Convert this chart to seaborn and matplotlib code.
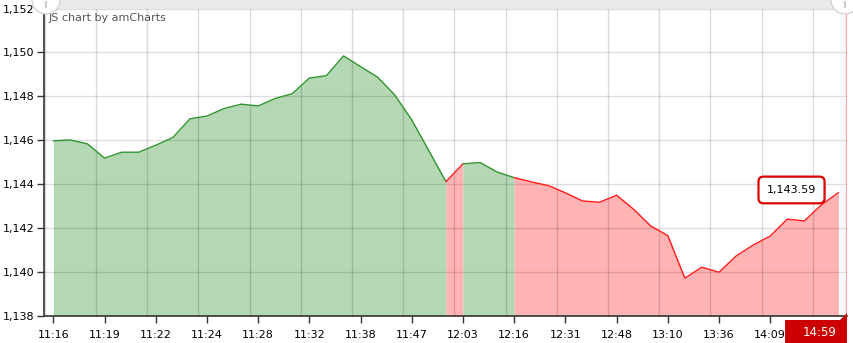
import matplotlib
matplotlib.use("Agg")
import matplotlib.pyplot as plt
import matplotlib.patches as mpatches
from matplotlib.ticker import FuncFormatter, FixedLocator
import numpy as np
import pandas as pd
import seaborn as sns

# ---- data ----
values = [1145.97, 1146.01, 1145.83, 1145.18, 1145.45, 1145.45, 1145.77, 1146.12,
          1146.97, 1147.10, 1147.44, 1147.64, 1147.56, 1147.90, 1148.12, 1148.83,
          1148.94, 1149.84, 1149.35, 1148.87, 1148.06, 1146.92, 1145.52, 1144.11,
          1144.92, 1144.98, 1144.55, 1144.29, 1144.10, 1143.93, 1143.60, 1143.23,
          1143.17, 1143.49, 1142.85, 1142.09, 1141.65, 1139.71, 1140.21, 1139.98,
          1140.72, 1141.22, 1141.63, 1142.40, 1142.32, 1143.05, 1143.61]
# colour of the segment that starts at each point ("g" up-colour, "r" down-colour)
seg_colors = (["g"] * 23 + ["r"] + ["g"] * 3 + ["r"] * 20)
tick_labels = ["11:16", "11:19", "11:22", "11:24", "11:28", "11:32", "11:38", "11:47",
               "12:03", "12:16", "12:31", "12:48", "13:10", "13:36", "14:09"]
cursor_label = "14:59"
last_value_label = "1,143.59"

GREEN_LINE = "#2f932f"
GREEN_FILL = "#b4d8b4"
RED_LINE = "#ff1a1a"
RED_FILL = "#ffb3b3"

sns.set_theme(style="white")
plt.rcParams['font.family'] = ['DejaVu Sans']

W, H = 854, 343
fig = plt.figure(figsize=(W / 100, H / 100), dpi=100)
ax = fig.add_axes([44.5 / W, (H - 315.7) / H, (847 - 44.5) / W, (315.7 - 8.5) / H])

n = len(values)
x = np.arange(n)
df = pd.DataFrame({"x": x, "value": values})

# split into runs of the same colour
runs = []
start = 0
for i in range(1, n - 1):
    if seg_colors[i] != seg_colors[start]:
        runs.append((start, i, seg_colors[start]))
        start = i
runs.append((start, n - 1, seg_colors[start]))

for s, e, c in runs:
    sub = df.iloc[s:e + 1]
    fill = GREEN_FILL if c == "g" else RED_FILL
    line = GREEN_LINE if c == "g" else RED_LINE
    ax.fill_between(sub["x"], sub["value"], 1138, color=fill, lw=0, zorder=1)
    sns.lineplot(data=sub, x="x", y="value", color=line, lw=1, ax=ax, zorder=3)

ax.set_xlim(-0.52, 46.5)
ax.set_ylim(1138, 1152)

# ticks
tick_pos = [3 * i for i in range(len(tick_labels))]
ax.set_xticks(tick_pos)
ax.set_xticklabels(tick_labels)
ax.xaxis.set_minor_locator(FixedLocator([2.5 + 3 * i for i in range(-1, 16)]))
ax.set_yticks(np.arange(1138, 1153, 2))
ax.yaxis.set_major_formatter(FuncFormatter(lambda v, p: f"{v:,.0f}"))
ax.set_xlabel("")
ax.set_ylabel("")

ax.tick_params(axis="both", which="major", labelsize=8, colors="#000000", length=5,
               width=1, direction="out", pad=3)
ax.tick_params(axis="x", which="minor", length=0)
ax.tick_params(axis="x", which="major", color="#333333", pad=5)
ax.tick_params(axis="y", which="major", color="#333333", pad=2)
ax.tick_params(bottom=True, left=True)

ax.grid(False)
for yv in np.arange(1140, 1153, 2):
    ax.axhline(yv, color="#000000", alpha=0.13, lw=1, zorder=2)
ax.grid(True, axis="x", which="minor", color="#000000", alpha=0.15, lw=1, zorder=2)
ax.set_axisbelow(False)

for side in ["top", "right"]:
    ax.spines[side].set_visible(False)
for side in ["left", "bottom"]:
    ax.spines[side].set_color("#333333")
    ax.spines[side].set_linewidth(1.2)
    ax.spines[side].set_zorder(5)

# cursor line at right edge
ax.axvline(46.45, color="#ff0000", alpha=0.35, lw=1, zorder=4)

# watermark
ax.text(0.005, 0.985, "JS chart by amCharts", transform=ax.transAxes, fontsize=8,
        color="#555555", ha="left", va="top", zorder=6)

# value balloon
ax.annotate(last_value_label, xy=(43.25, 1143.73), ha="center", va="center", fontsize=8,
            color="#000000", zorder=7,
            bbox=dict(boxstyle="round,pad=0.75,rounding_size=0.45", fc="white",
                      ec="#dd0000", lw=1.6))

# scrollbar at top
fig.add_artist(mpatches.Rectangle((44 / W, (H - 8.5) / H), (846 - 44) / W, 8.5 / H,
                                  transform=fig.transFigure, fc="#e9e9e9", ec="none", zorder=0))
for cx in [46, 845]:
    fig.add_artist(mpatches.Ellipse((cx / W, 1.0), 28 / W, 28 / H, transform=fig.transFigure,
                                    fc="white", ec="#cccccc", lw=0.8, zorder=8))
    fig.text(cx / W, (H - 5) / H, "||", fontsize=5, color="#aaaaaa", ha="center", va="center",
             zorder=9)

# cursor category balloon
fig.add_artist(mpatches.Rectangle((785 / W, 0), (847 - 785) / W, 23 / H,
                                  transform=fig.transFigure, fc="#cc0000", ec="none", zorder=8))
fig.add_artist(mpatches.Polygon([[840 / W, 23 / H], [847 / W, 23 / H], [847 / W, 30 / H]],
                                closed=True, transform=fig.transFigure, fc="#cc0000",
                                ec="none", zorder=8))
fig.text(820 / W, 10 / H, cursor_label, fontsize=8.5, color="white", ha="center",
         va="center", zorder=9)

fig.savefig("out.png", dpi=100)
